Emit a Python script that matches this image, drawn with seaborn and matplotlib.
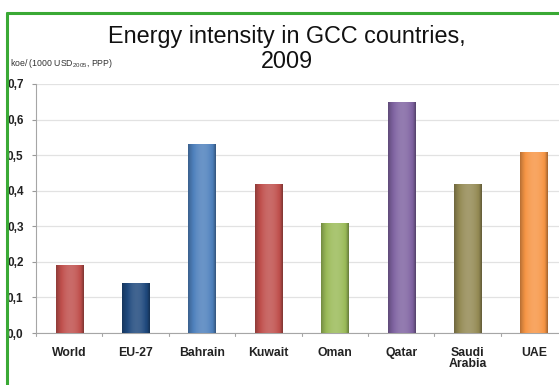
import numpy as np
import pandas as pd
import matplotlib
matplotlib.use("Agg")
import matplotlib.pyplot as plt
import matplotlib.colors as mcolors
from matplotlib.lines import Line2D
import seaborn as sns

# Energy intensity, 2009 (toe per 1000 USD 2005, PPP)
countries = ["World", "EU-27", "Bahrain", "Kuwait", "Oman", "Qatar", "Saudi\nArabia", "UAE"]
intensity = [0.19, 0.14, 0.53, 0.42, 0.31, 0.65, 0.42, 0.51]
bar_colors = ["#c0504d", "#1f497d", "#4f81bd", "#c0504d", "#9bbb59", "#8064a2", "#948a54", "#f79646"]
y_ticks = [0.0, 0.1, 0.2, 0.3, 0.4, 0.5, 0.6, 0.7]
y_tick_labels = ["0,0", "0,1", "0,2", "0,3", "0,4", "0,5", "0,6", "0,7"]

sns.set_style("white")
plt.rcParams["font.family"] = ["Liberation Sans", "DejaVu Sans"]
plt.rcParams["mathtext.default"] = "regular"

W, H = 559, 385
fig = plt.figure(figsize=(W / 100, H / 100), dpi=100)

# plot area in pixel coordinates
left_px, bottom_px, top_px, slot_px = 36, 333, 84, 66.4
ax = fig.add_axes([left_px / W, (H - bottom_px) / H,
                   8 * slot_px / W, (bottom_px - top_px) / H])

df = pd.DataFrame({"country": countries, "value": intensity})
sns.barplot(data=df, x="country", y="value", hue="country", palette=bar_colors,
            legend=False, width=0.41, ax=ax, saturation=1.0, zorder=3)

# cylinder-style shading across each bar
t = np.linspace(0, 1, 64)
shade = 0.62 + 0.55 * np.sin(np.pi * np.clip(t * 0.85 + 0.05, 0, 1)) ** 0.8
shade = np.where(t > 0.9, shade * (1 - (t - 0.9) * 2.0), shade)
for patch, col in zip(ax.patches, bar_colors):
    base = np.array(mcolors.to_rgb(col))
    rgb = np.empty((1, len(t), 3))
    for i, s in enumerate(shade):
        if s <= 1:
            rgb[0, i] = base * s
        else:
            rgb[0, i] = base + (1 - base) * (s - 1) * 0.9
    x0, y0 = patch.get_x(), patch.get_y()
    w, h = patch.get_width(), patch.get_height()
    im = ax.imshow(np.clip(rgb, 0, 1), extent=[x0, x0 + w, y0, y0 + h],
                   aspect="auto", zorder=4, interpolation="bilinear")
    im.set_clip_path(patch)
    patch.set_edgecolor("none")

ax.set_xlim(-0.5, 7.5)
ax.set_ylim(0, 0.7)
ax.set_yticks(y_ticks)
ax.set_yticklabels(y_tick_labels, fontsize=8.5, fontweight="bold", color="#222222")
ax.set_xticks(range(len(countries)))
ax.set_xticklabels(countries, fontsize=8.8, fontweight="bold", color="#222222",
                   linespacing=0.95)
ax.tick_params(axis="x", length=0, pad=10)
ax.tick_params(axis="y", length=3, width=0.8, color="#999999", pad=6, left=True)
ax.set_xlabel("")
ax.set_ylabel("")
ax.yaxis.grid(True, color="#e2e2e2", linewidth=0.9, zorder=0)
for side in ["top", "right"]:
    ax.spines[side].set_visible(False)
for side in ["left", "bottom"]:
    ax.spines[side].set_color("#a6a6a6")
    ax.spines[side].set_linewidth(0.8)

# category separator ticks below the x axis
for xb in np.arange(-0.5, 8.0, 1.0):
    ax.plot([xb, xb], [0, -0.009], color="#a6a6a6", lw=0.8, clip_on=False, zorder=5)

fig.text(287 / W, 1 - 37 / H, "Energy intensity in GCC countries,", ha="center",
         va="center", fontsize=16.8, color="#111111")
fig.text(287 / W, 1 - 61 / H, "2009", ha="center", va="center", fontsize=16.8,
         color="#111111")
fig.text(10 / W, 1 - 63 / H, "koe/ (1000 USD$_{2005}$, PPP)", ha="left", va="center",
         fontsize=6.3, color="#333333")

# green frame along the top and left
fig.add_artist(Line2D([7 / W, 1.0], [1 - 13 / H, 1 - 13 / H], color="#3aa935", lw=2.2,
                      transform=fig.transFigure))
fig.add_artist(Line2D([7 / W, 7 / W], [0, 1 - 13 / H], color="#3aa935", lw=2.2,
                      transform=fig.transFigure))

fig.savefig("out.png", dpi=100)
